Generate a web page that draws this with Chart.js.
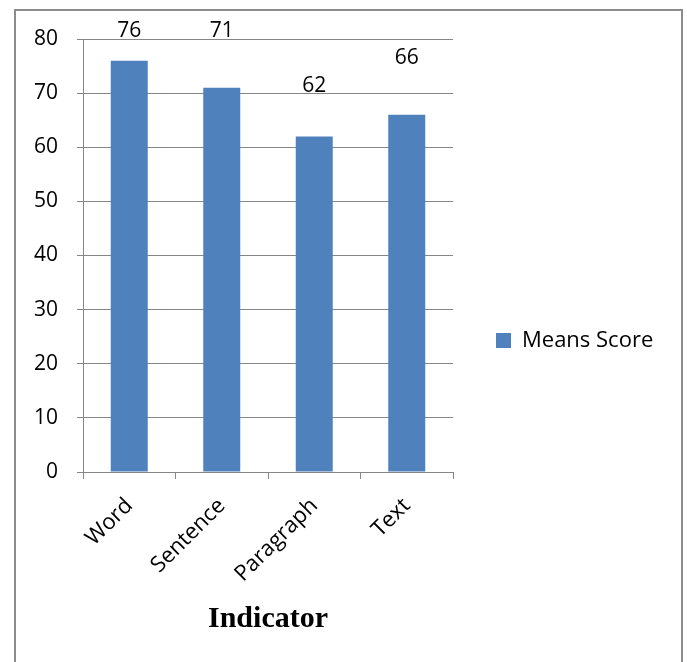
<!DOCTYPE html>
<html>
<head>
<meta charset="utf-8">
<script src="https://cdn.jsdelivr.net/npm/chart.js@4.4.0/dist/chart.umd.min.js"></script>
<style>
  html, body { margin: 0; padding: 0; background: #ffffff; }
  #wrap { position: relative; width: 687px; height: 662px; }
</style>
</head>
<body>
<div id="wrap"><canvas id="c" width="687" height="662"></canvas></div>
<script>
const categories = ['Word', 'Sentence', 'Paragraph', 'Text'];
const meansScore = [76, 71, 62, 66];
const valueLabels = ['76', '71', '62', '66'];
const labelLevels = [81.4, 81.4, 71.3, 76.5];
const yTicks = [0, 10, 20, 30, 40, 50, 60, 70, 80];
const seriesName = 'Means Score';
const axisTitle = 'Indicator';

const FONT = "'Open Sans', 'DejaVu Sans', sans-serif";
const BAR = '#4F81BD';
const GRID = '#868686';

// measure legend text to place the legend box
const mctx = document.createElement('canvas').getContext('2d');
mctx.font = '22px ' + FONT;
const legendTextW = mctx.measureText(seriesName).width;
const PLOT_RIGHT = 453;
const LEG_PAD = 43;
const legendWidth = LEG_PAD + 15 + 11 + legendTextW + 10;
const padRight = Math.max(0, 687 - PLOT_RIGHT - legendWidth);

const framePlugin = {
  id: 'frame',
  beforeDraw(chart) {
    const ctx = chart.ctx;
    ctx.save();
    ctx.fillStyle = '#ffffff';
    ctx.fillRect(0, 0, chart.width, chart.height);
    ctx.strokeStyle = '#8c8c8c';
    ctx.lineWidth = 2;
    ctx.strokeRect(15, 10, 667, 700);
    ctx.restore();
  }
};

const valueLabelPlugin = {
  id: 'valueLabels',
  afterDatasetsDraw(chart) {
    const ctx = chart.ctx;
    const meta = chart.getDatasetMeta(0);
    const y = chart.scales.y;
    ctx.save();
    ctx.font = '21px ' + FONT;
    ctx.fillStyle = '#000000';
    ctx.textAlign = 'center';
    ctx.textBaseline = 'middle';
    meta.data.forEach((bar, i) => {
      ctx.fillText(valueLabels[i], bar.x, y.getPixelForValue(labelLevels[i]));
    });
    ctx.restore();
  }
};

new Chart(document.getElementById('c'), {
  type: 'bar',
  data: {
    labels: categories,
    datasets: [{
      label: seriesName,
      data: meansScore,
      backgroundColor: BAR,
      borderWidth: 0,
      barPercentage: 0.4,
      categoryPercentage: 1.0
    }]
  },
  options: {
    responsive: false,
    animation: false,
    devicePixelRatio: 1,
    layout: { padding: { top: 39, left: 0, right: padRight, bottom: 20 } },
    plugins: {
      legend: {
        position: 'right',
        align: 'center',
        maxWidth: 400,
        labels: {
          boxWidth: 15,
          boxHeight: 15,
          padding: LEG_PAD,
          color: '#000000',
          font: { family: FONT, size: 22 }
        }
      },
      tooltip: { enabled: false }
    },
    scales: {
      x: {
        grid: {
          display: true,
          drawOnChartArea: false,
          drawTicks: true,
          tickLength: 7,
          color: GRID,
          lineWidth: 1
        },
        border: { display: true, color: GRID, width: 1 },
        ticks: {
          color: '#000000',
          font: { family: FONT, size: 22 },
          minRotation: 45,
          maxRotation: 45,
          padding: 14,
          autoSkip: false
        },
        title: {
          display: true,
          text: axisTitle,
          color: '#000000',
          font: { family: "'Liberation Serif', 'Times New Roman', serif", size: 30, weight: 'bold' },
          padding: { top: 0, bottom: 5 }
        },
        afterFit(scale) { scale.height = 662 - 20 - 472; }
      },
      y: {
        min: 0,
        max: 80,
        afterBuildTicks(scale) { scale.ticks = yTicks.map(v => ({ value: v })); },
        grid: {
          color: GRID,
          lineWidth: 1,
          drawTicks: true,
          tickLength: 6
        },
        border: { display: true, color: GRID, width: 1 },
        ticks: {
          color: '#000000',
          font: { family: FONT, size: 21 },
          padding: 19
        },
        afterFit(scale) { scale.width = 83; }
      }
    }
  },
  plugins: [framePlugin, valueLabelPlugin]
});
</script>
</body>
</html>
